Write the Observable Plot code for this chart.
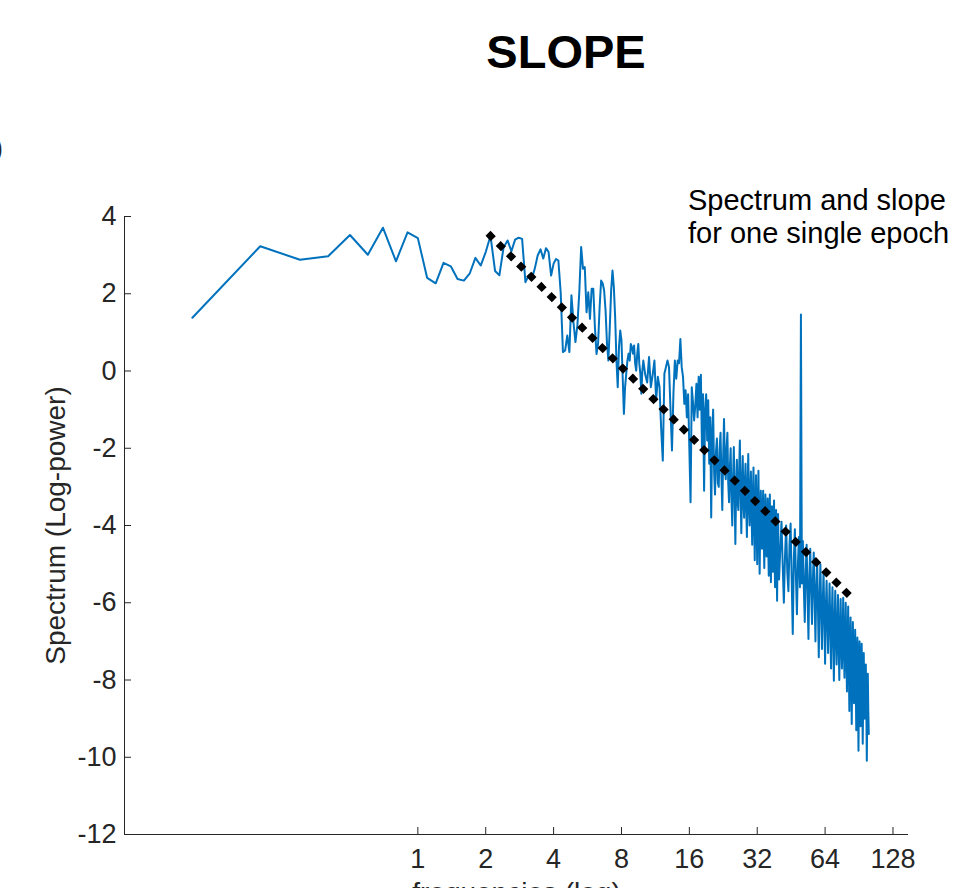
<!DOCTYPE html>
<html>
<head>
<meta charset="utf-8">
<script src="https://cdn.jsdelivr.net/npm/d3@7"></script>
<script src="https://cdn.jsdelivr.net/npm/@observablehq/plot@0.6"></script>
<style>
  html, body { margin: 0; padding: 0; background: #fff; }
  body { width: 953px; height: 888px; overflow: hidden; position: relative; font-family: 'Liberation Sans', Arial, sans-serif; color: #000; }
  #chart { position: absolute; left: 0; top: 0; }
  .title { position: absolute; left: 566px; top: 28px; transform: translateX(-50%); font-size: 47px; font-weight: bold; line-height: 47px; white-space: nowrap; }
  .note { position: absolute; left: 688px; top: 184px; font-size: 29px; line-height: 33px; white-space: nowrap; }
  .cut { position: absolute; left: -6px; top: 128px; font-size: 27px; line-height: 40px; white-space: nowrap; color: #262626; }
</style>
</head>
<body>
<div id="chart"></div>
<div class="title">SLOPE</div>
<div class="note">Spectrum and slope<br>for one single epoch</div>
<div class="cut">)</div>
<script>
// ---- tick labels ----
const xTicks = [1, 2, 4, 8, 16, 32, 64, 128];
const yTicks = [-12, -10, -8, -6, -4, -2, 0, 2, 4];

// ---- spectrum, 0.1 - 10 Hz (0.1 Hz bins) ----
const freqA = [0.1,0.2,0.3,0.4,0.5,0.6,0.7,0.8,0.9,1.0,
  1.1,1.2,1.3,1.4,1.5,1.6,1.7,1.8,1.9,2.0,
  2.1,2.2,2.3,2.4,2.5,2.6,2.7,2.8,2.9,3.0,
  3.1,3.2,3.3,3.4,3.5,3.6,3.7,3.8,3.9,4.0,
  4.1,4.2,4.3,4.4,4.5,4.6,4.7,4.8,4.9,5.0,
  5.1,5.2,5.3,5.4,5.5,5.6,5.7,5.8,5.9,6.0,
  6.1,6.2,6.3,6.4,6.5,6.6,6.7,6.8,6.9,7.0,
  7.1,7.2,7.3,7.4,7.5,7.6,7.7,7.8,7.9,8.0,
  8.1,8.2,8.3,8.4,8.5,8.6,8.7,8.8,8.9,9.0,
  9.1,9.2,9.3,9.4,9.5,9.6,9.7,9.8,9.9,10.0];
const powA = [1.38,3.23,2.88,2.97,3.52,3.01,3.71,2.84,3.59,3.44,
  2.41,2.27,2.80,2.71,2.38,2.34,2.53,2.93,2.73,3.08,
  3.50,2.59,2.48,3.20,3.38,3.10,3.40,3.45,3.42,2.30,
  2.47,2.39,2.65,2.99,3.15,2.91,3.18,3.08,2.47,2.78,
  2.90,2.86,2.04,0.49,0.53,0.92,0.49,1.96,1.26,0.75,
  1.18,2.04,3.21,2.65,2.69,1.52,2.04,1.35,2.13,2.13,
  1.13,0.44,0.71,1.65,2.34,2.27,2.09,1.57,0.71,0.27,
  1.13,2.09,2.60,2.17,1.39,0.27,-0.42,0.62,1.05,0.79,
  -0.16,-1.11,-0.42,-0.07,0.27,0.45,0.27,0.70,0.62,0.45,
  0.66,0.19,0.01,0.45,0.70,0.19,-0.07,-0.59,0.01,0.27];

// ---- spectrum, 10 - 20 Hz ----
const freqB = [10.2,10.4,10.6,10.8,11.0,11.2,11.4,11.6,11.8,12.0,
  12.2,12.4,12.6,12.8,13.0,13.2,13.4,13.6,13.8,14.0,
  14.2,14.4,14.6,14.8,15.0,15.2,15.4,15.6,15.8,16.0,
  16.2,16.4,16.6,16.8,17.0,17.2,17.4,17.6,17.8,18.0,
  18.2,18.4,18.6,18.8,19.0,19.2,19.4,19.6,19.8,20.0];
const powB = [-0.10,-0.30,0.36,-0.42,-0.10,0.27,-0.76,-0.15,-0.42,-1.50,
  -2.32,-0.07,0.10,0.27,0.10,-1.00,-2.06,-0.59,0.27,-0.20,
  0.27,0.20,0.83,0.10,-0.15,-0.85,-0.50,-1.20,-0.60,-2.00,
  -3.40,-0.42,-0.80,-1.28,-0.90,-0.33,-1.20,-0.15,-1.00,-0.10,
  -2.00,-0.60,-3.10,-1.00,-0.60,-1.80,-0.76,-2.40,-1.20,-3.79];

// ---- spectrum, 20 - 40 Hz ----
const freqC = [20.2,20.4,20.6,20.8,21.0,21.2,21.4,21.6,21.8,22.0,
  22.2,22.4,22.6,22.8,23.0,23.2,23.4,23.6,23.8,24.0,
  24.2,24.4,24.6,24.8,25.0,25.2,25.4,25.6,25.8,26.0,
  26.2,26.4,26.6,26.8,27.0,27.2,27.4,27.6,27.8,28.0,
  28.2,28.4,28.6,28.8,29.0,29.2,29.4,29.6,29.8,30.0,
  30.2,30.4,30.6,30.8,31.0,31.2,31.4,31.6,31.8,32.0,
  32.2,32.4,32.6,32.8,33.0,33.2,33.4,33.6,33.8,34.0,
  34.2,34.4,34.6,34.8,35.0,35.2,35.4,35.6,35.8,36.0,
  36.2,36.4,36.6,36.8,37.0,37.2,37.4,37.6,37.8,38.0,
  38.2,38.4,38.6,38.8,39.0,39.2,39.4,39.6,39.8,40.0];
const powC = [-1.60,-1.00,-2.60,-3.20,-2.10,-1.75,-2.90,-3.00,-2.00,-1.60,
  -2.70,-3.60,-2.20,-1.24,-2.40,-2.80,-2.00,-1.60,-2.90,-3.40,
  -2.50,-2.00,-3.30,-4.00,-2.80,-1.97,-3.20,-4.48,-3.00,-2.30,
  -3.40,-3.60,-2.60,-1.80,-3.10,-4.20,-3.00,-2.20,-3.40,-3.80,
  -2.90,-2.40,-3.50,-4.30,-3.10,-2.15,-3.40,-4.00,-3.20,-2.60,
  -3.70,-4.50,-3.30,-2.50,-3.80,-4.90,-3.60,-2.70,-3.90,-5.00,
  -3.70,-2.58,-4.00,-5.25,-4.00,-3.10,-4.20,-4.60,-3.80,-3.10,
  -4.30,-5.10,-4.00,-3.20,-4.40,-4.80,-4.10,-3.30,-4.50,-5.30,
  -4.20,-3.20,-4.60,-5.47,-4.30,-3.50,-4.70,-5.20,-4.40,-3.35,
  -4.80,-5.60,-4.50,-3.60,-4.90,-5.95,-4.60,-3.70,-5.00,-5.40];

// ---- spectrum, 40 - 100 Hz (50 Hz line-noise peak) ----
const freqD = [40.5,41,41.5,42,42.5,43,43.5,44,44.5,45,
  45.5,46,46.5,47,47.5,48,48.5,49,49.5,50,
  50.5,51,51.5,52,52.5,53,53.5,54,54.5,55,
  55.5,56,56.5,57,57.5,58,58.5,59,59.5,60,
  60.5,61,61.5,62,62.5,63,63.5,64,64.5,65,
  65.5,66,66.5,67,67.5,68,68.5,69,69.5,70,
  70.5,71,71.5,72,72.5,73,73.5,74,74.5,75,
  75.5,76,76.5,77,77.5,78,78.5,79,79.5,80,
  80.5,81,81.5,82,82.5,83,83.5,84,84.5,85,
  85.5,86,86.5,87,87.5,88,88.5,89,89.5,90,
  90.5,91,91.5,92,92.5,93,93.5,94,94.5,95,
  95.5,96,96.5,97,97.5,98,98.5,99,99.5,100];
const powD = [-4.60,-3.90,-5.00,-6.00,-4.80,-4.00,-5.20,-5.70,-4.50,-3.95,
  -5.40,-6.81,-4.90,-4.10,-5.30,-6.30,-5.00,-4.30,-5.60,1.46,
  -5.50,-4.40,-5.60,-6.50,-5.20,-4.50,-5.80,-6.94,-5.30,-4.60,
  -5.70,-6.55,-5.40,-4.70,-5.90,-7.00,-5.60,-4.90,-6.10,-7.41,
  -5.90,-5.00,-6.20,-7.20,-6.00,-5.20,-6.40,-7.58,-6.10,-5.43,
  -6.50,-7.30,-6.30,-5.50,-6.60,-7.70,-6.40,-5.60,-6.80,-8.02,
  -6.60,-5.69,-6.80,-7.60,-6.70,-5.80,-7.00,-8.00,-6.80,-5.90,
  -7.00,-7.70,-6.90,-5.87,-7.10,-7.94,-7.00,-6.00,-7.30,-8.30,
  -7.20,-6.10,-7.50,-8.80,-7.40,-6.38,-7.70,-9.14,-7.60,-6.50,
  -7.80,-8.60,-7.70,-6.70,-8.00,-9.30,-7.90,-6.90,-8.30,-9.83,
  -8.10,-7.00,-8.30,-9.20,-8.20,-7.06,-8.40,-9.65,-8.30,-7.30,
  -8.50,-9.00,-8.40,-7.60,-8.70,-10.09,-8.60,-7.84,-8.80,-9.40];

// ---- fitted slope (start / end of the fit) ----
const fitFreq = [2.1, 80];
const fitPow = [3.5, -5.75];

const freqs = [...freqA, ...freqB, ...freqC, ...freqD];
const pows = [...powA, ...powB, ...powC, ...powD];
const spectrum = freqs.map((f, i) => ({f, p: pows[i]}));
const fit = fitFreq.map((f, i) => ({f, p: fitPow[i]}));

const W = 953, H = 888, ML = 124, MR = 45, MT = 216, MB = 54;
const frameW = W - ML - MR, frameH = H - MT - MB;
const axisColor = "#262626";

const chart = Plot.plot({
  width: W, height: H,
  marginLeft: ML, marginRight: MR, marginTop: MT, marginBottom: MB,
  style: {fontFamily: "'Liberation Sans', Arial, sans-serif", fontSize: "27px", color: axisColor, background: "white", overflow: "visible"},
  x: {type: "log", domain: [0.05, 150], axis: null},
  y: {domain: [-12, 4]},
  marks: [
    Plot.text(xTicks, {x: d => d, text: d => String(d), frameAnchor: "bottom", dy: 14, lineAnchor: "top", textAnchor: "middle", fontSize: 27, fill: axisColor}),
    Plot.axisY(yTicks, {tickSize: 0, tickPadding: 8, tickFormat: d => String(d), label: null, fontSize: 27, fill: axisColor}),
    Plot.ruleX(xTicks, {insetTop: frameH - 7, stroke: axisColor, strokeWidth: 1}),
    Plot.ruleY(yTicks, {insetRight: frameW - 7, stroke: axisColor, strokeWidth: 1}),
    Plot.ruleX([0.05], {stroke: axisColor, strokeWidth: 1}),
    Plot.ruleY([-12], {stroke: axisColor, strokeWidth: 1}),
    Plot.text(["Spectrum (Log-power)"], {frameAnchor: "left", rotate: -90, dx: -68, lineAnchor: "middle", textAnchor: "middle", fontSize: 28, fill: axisColor}),
    Plot.text(["frequencies (log)"], {frameAnchor: "bottom", dy: 48, lineAnchor: "top", textAnchor: "middle", fontSize: 28, fill: axisColor}),
    Plot.line(spectrum, {x: "f", y: "p", stroke: "#0072BD", strokeWidth: 2, strokeLinejoin: "round"}),
    Plot.line(fit, {x: "f", y: "p", stroke: "black", strokeWidth: 7, strokeDasharray: "0.5 13.9", strokeLinecap: "square"})
  ]
});
document.getElementById("chart").appendChild(chart);
</script>
</body>
</html>
